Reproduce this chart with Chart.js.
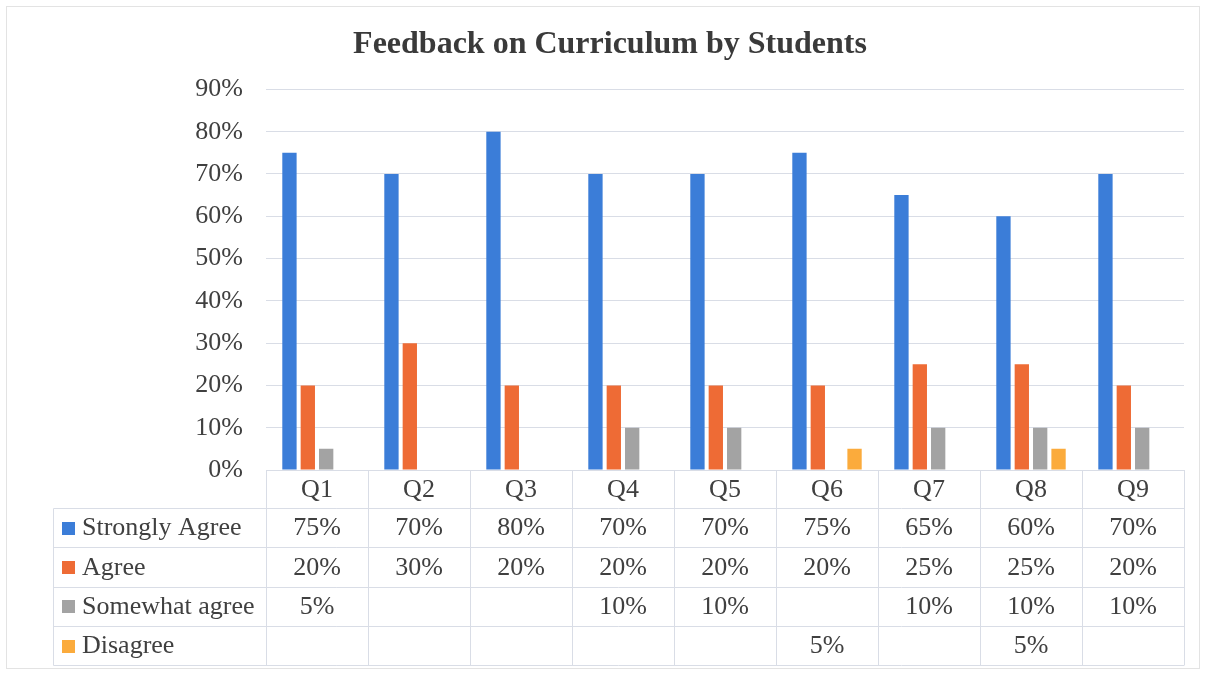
<!DOCTYPE html>
<html>
<head>
<meta charset="utf-8">
<script src="https://cdn.jsdelivr.net/npm/chart.js@4.4.1/dist/chart.umd.min.js"></script>
<style>
html,body{margin:0;padding:0;background:#ffffff;}
#wrap{width:1206px;height:674px;position:relative;}
canvas{display:block;}
</style>
</head>
<body>
<div id="wrap"><canvas id="c" width="1206" height="674"></canvas></div>
<script>
// ---- data ----
const categories = ['Q1','Q2','Q3','Q4','Q5','Q6','Q7','Q8','Q9'];
const seriesNames = ['Strongly Agree','Agree','Somewhat agree','Disagree'];
const stronglyAgree = [75,70,80,70,70,75,65,60,70];
const agree = [20,30,20,20,20,20,25,25,20];
const somewhatAgree = [5,null,null,10,10,null,10,10,10];
const disagree = [null,null,null,null,null,5,null,5,null];
const yTickValues = [0,10,20,30,40,50,60,70,80,90];
const chartTitle = 'Feedback on Curriculum by Students';

// ---- styles ----
const seriesColors = ['#3b7dd8','#ee6b35','#a3a3a3','#fbab3c'];
const FONT = '"Liberation Serif","Times New Roman",serif';
const TEXT = '#404040';
const GRID = '#d9dde6';
const seriesValues = [stronglyAgree, agree, somewhatAgree, disagree];

const tablePlugin = {
  id: 'dataTable',
  afterDraw(chart) {
    const ctx = chart.ctx;
    const xs = chart.scales.x;
    const area = chart.chartArea;
    const n = categories.length;
    const cw = (area.right - area.left) / n;
    const top = area.bottom;
    const headerBottom = top + 38;
    const rowH = 39.3;
    const leftEdge = 53.5;
    const bottom = headerBottom + rowH * seriesNames.length;
    ctx.save();
    ctx.strokeStyle = GRID;
    ctx.lineWidth = 1;
    ctx.beginPath();
    // horizontal lines
    for (let r = 0; r <= seriesNames.length; r++) {
      const y = Math.round(headerBottom + r * rowH) + 0.5;
      ctx.moveTo(leftEdge, y);
      ctx.lineTo(area.right, y);
    }
    // vertical lines (category boundaries)
    for (let i = 0; i <= n; i++) {
      const x = Math.round(area.left + i * cw) + 0.5;
      ctx.moveTo(x, top);
      ctx.lineTo(x, Math.round(bottom) + 0.5);
    }
    ctx.moveTo(leftEdge, Math.round(headerBottom) + 0.5);
    ctx.lineTo(leftEdge, Math.round(bottom) + 0.5);
    ctx.stroke();

    ctx.font = '26px ' + FONT;
    ctx.fillStyle = TEXT;
    ctx.textBaseline = 'middle';
    ctx.textAlign = 'center';
    // header labels
    categories.forEach((c, i) => {
      ctx.fillText(c, xs.getPixelForValue(i), (top + headerBottom) / 2 + 1);
    });
    // rows
    seriesNames.forEach((name, r) => {
      const yc = headerBottom + r * rowH + rowH / 2 + 1;
      // legend key
      ctx.fillStyle = seriesColors[r];
      ctx.fillRect(62, Math.round(yc - 7), 13, 13);
      ctx.fillStyle = TEXT;
      ctx.textAlign = 'left';
      ctx.fillText(name, 82, yc);
      ctx.textAlign = 'center';
      seriesValues[r].forEach((v, i) => {
        if (v !== null && v !== undefined) {
          ctx.fillText(v + '%', xs.getPixelForValue(i), yc);
        }
      });
    });
    // outer frame
    ctx.strokeStyle = '#e3e3e3';
    ctx.strokeRect(6.5, 6.5, 1193, 662);
    ctx.restore();
  }
};

new Chart(document.getElementById('c'), {
  type: 'bar',
  data: {
    labels: categories,
    datasets: seriesNames.map((name, k) => ({
      label: name,
      data: seriesValues[k],
      backgroundColor: seriesColors[k],
      borderWidth: 0,
      categoryPercentage: 0.72,
      barPercentage: 0.78
    }))
  },
  options: {
    responsive: false,
    animation: false,
    layout: { padding: { left: 36, right: 22, top: 0, bottom: 204 } },
    plugins: {
      legend: { display: false },
      tooltip: { enabled: false },
      title: {
        display: true,
        text: chartTitle,
        color: '#3a3a3a',
        font: { family: FONT, size: 32, weight: 'bold', lineHeight: 1.2 },
        padding: { top: 26, bottom: 25 }
      }
    },
    scales: {
      x: { display: false },
      y: {
        min: 0,
        max: 90,
        afterFit(s) { s.width = 230; },
        afterBuildTicks(s) { s.ticks = yTickValues.map(v => ({ value: v })); },
        ticks: {
          color: TEXT,
          font: { family: FONT, size: 26 },
          padding: 23,
          callback: v => v + '%'
        },
        grid: { color: GRID, drawTicks: false },
        border: { display: false }
      }
    }
  },
  plugins: [tablePlugin]
});
</script>
</body>
</html>
